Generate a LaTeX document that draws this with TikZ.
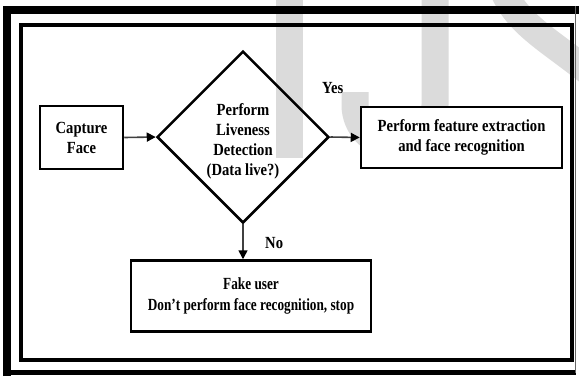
\documentclass[tikz,border=0pt]{standalone}
\usepackage{fontspec}
\setmainfont{Liberation Serif}[FakeStretch=0.86]
\newfontfamily\narrowserif{Liberation Serif}[FakeStretch=0.78]
\usetikzlibrary{shapes.geometric,arrows.meta}
\definecolor{wmark}{gray}{0.86}
\begin{document}
\begin{tikzpicture}[x=1pt,y=-1pt,
  every node/.style={font=\fontsize{17}{20}\selectfont\bfseries},
  box/.style={draw,line width=2.5pt,fill=white,inner sep=0pt,align=center},
  flow/.style={line width=1.6pt,draw=black!75,-{Triangle[length=9pt,width=9pt,fill=black,color=black]}},
  tag/.style={anchor=west,inner sep=0pt}]
\useasboundingbox (0,0) rectangle (579,376);
\fill[white] (0,0) rectangle (579,376);

% light watermark letters behind the chart
\begin{scope}
  \clip (0,0) rectangle (579,376);
  \fill[wmark] (276,-5) rectangle (303,158);
  \draw[wmark,line width=27pt] (435,-5) -- (435,105) arc[start angle=0,end angle=180,radius=40] -- (355,92);
  \draw[wmark,line width=27pt] (503,-10) .. controls (520,30) and (560,45) .. (610,90);
\end{scope}

% double frame
\draw[line width=8pt] (7,376) -- (7,10) -- (579,10);
\draw[line width=5pt] (3,372.5) -- (576,372.5);
\draw[line width=1.5pt,black!60] (575.5,6) -- (575.5,373);
\draw[line width=4pt] (20.5,24.5) rectangle (571.5,359.5);

% chart nodes
\node[box,minimum width=83pt,minimum height=63pt] (cap) at (81.5,137.5) {Capture\\Face};
\node[draw,diamond,aspect=1,line width=2.5pt,minimum width=172pt,minimum height=172pt,inner sep=0pt] (dec) at (243,137) {};
\node[align=center,inner sep=0pt] (dect) at (243,141) {Perform\\Liveness\\Detection\\(Data live?)};
\node[box,minimum width=201pt,minimum height=61pt] (feat) at (461.5,137.5) {Perform feature extraction\\and face recognition};
\node[box,minimum width=240pt,minimum height=71pt,font=\fontsize{17}{21}\narrowserif\bfseries] (fake) at (251,296) {Fake user\\Don’t perform face recognition, stop};

% connectors
\draw[flow] (cap.east) -- (dec.west);
\draw[flow] (dec.east) -- (feat.west);
\draw[flow] (dec.south) -- (dec.south |- fake.north);

\node[tag] (yes) at (322,88) {Yes};
\node[tag] (no) at (265,243) {No};
\end{tikzpicture}
\end{document}
